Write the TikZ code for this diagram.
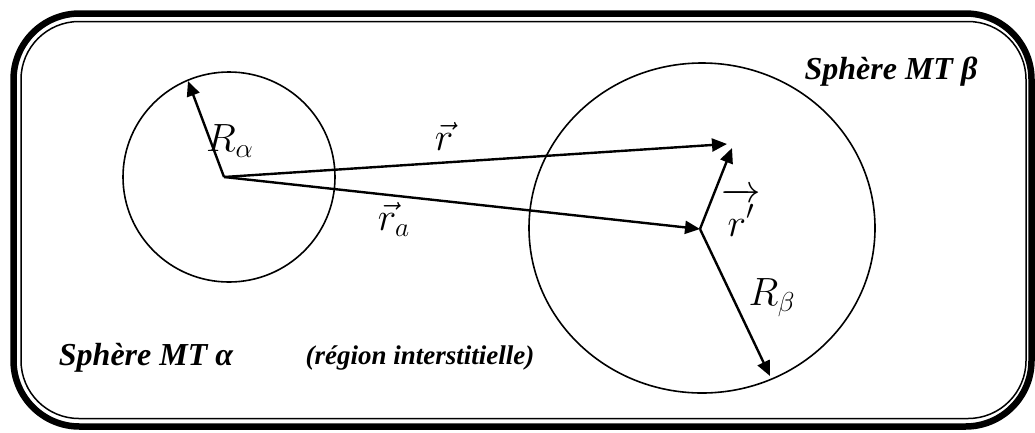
\documentclass[tikz,border=0pt]{standalone}
\usepackage{graphicx}
\usepackage{fontspec}
\setmainfont{Liberation Serif}
\usetikzlibrary{arrows.meta}
\newcommand{\bigmath}[1]{\scalebox{1.9}{\fontsize{20.74}{24}\selectfont$#1$}}
\begin{document}
\begin{tikzpicture}[x=1pt,y=-1pt,
  vecarrow/.style={line width=2.4pt,-{Triangle[length=15pt,width=13pt]}},
  sph/.style={draw,line width=1.6pt},
  txtlbl/.style={font=\fontsize{32}{38}\selectfont\bfseries\itshape, inner sep=0pt},
  smalllbl/.style={font=\fontsize{27}{32}\selectfont\bfseries\itshape, inner sep=0pt},
  mathlbl/.style={inner sep=0pt}]
\useasboundingbox (0,0) rectangle (1035,432);
% double frame
\draw[line width=6.5pt, rounded corners=66pt] (13.5,13.5) rectangle (1031.5,426.5);
\draw[line width=1.5pt, rounded corners=58pt] (21,21.5) rectangle (1026,418.5);
% centres and tips
\coordinate (A) at (224,177);
\coordinate (Ac) at (229,177);
\coordinate (B) at (700,229);
\coordinate (Bc) at (702,228);
\coordinate (Ra) at (188,81);
\coordinate (Rt) at (727,144);
\coordinate (Rp) at (732,148);
\coordinate (Rb) at (770,376);
% spheres
\draw[sph] (Ac) ellipse[x radius=106pt, y radius=105pt];
\draw[sph] (Bc) ellipse[x radius=173pt, y radius=165pt];
% vectors
\draw[vecarrow] (A) -- (Ra);
\draw[vecarrow] (A) -- (Rt);
\draw[vecarrow] (A) -- (B);
\draw[vecarrow] (B) -- (Rp);
\draw[vecarrow] (B) -- (Rb);
% math labels
\node[mathlbl] (lRa) at (230,141) {\bigmath{R_\alpha}};
\node[mathlbl] (lr) at (444,136) {\bigmath{\vec{r}}};
\node[mathlbl] (lra) at (394,219) {\bigmath{\vec{r}_a}};
\node[mathlbl] (lrp) at (741,212) {\bigmath{\overrightarrow{r'\rule{0pt}{0.9em}}}};
\node[mathlbl] (lRb) at (772,298) {\bigmath{R_\beta}};
% text labels
\node[txtlbl] (ta) at (146,358) {Sphère MT α};
\node[txtlbl] (tb) at (891,72) {Sphère MT β};
\node[smalllbl] (ti) at (420,358) {(région interstitielle)};
\end{tikzpicture}
\end{document}
